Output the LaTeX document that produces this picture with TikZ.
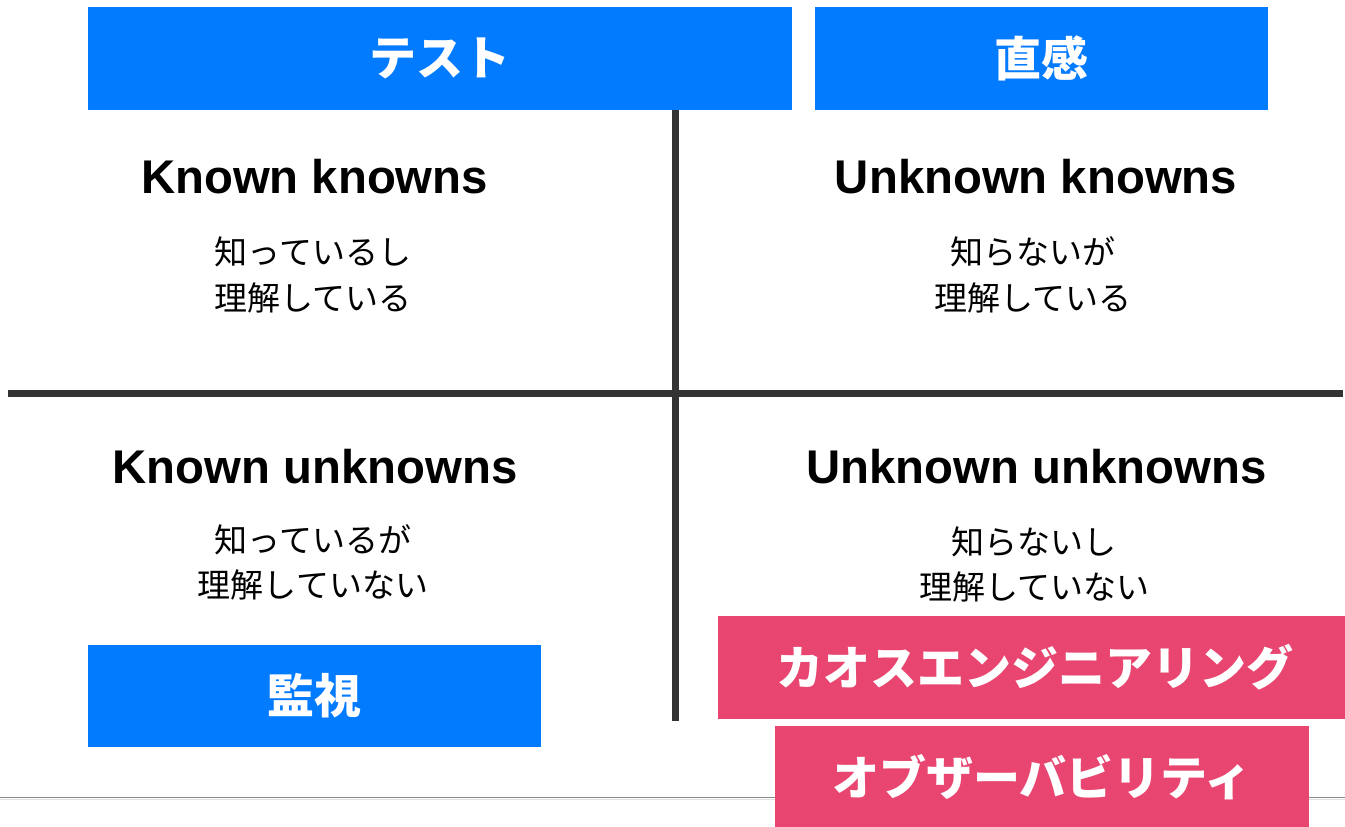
\documentclass[tikz,border=0pt]{standalone}
\usepackage{fontspec}
\setmainfont{Liberation Sans}
\newfontfamily\jp{Noto Sans CJK JP}
\definecolor{blueC}{HTML}{037BFF}
\definecolor{pinkC}{HTML}{E84670}
\definecolor{lineC}{HTML}{333333}
\definecolor{baseC}{HTML}{8A8A8A}
\tikzset{
  bluebox/.style={fill=blueC, draw=none, inner sep=0pt, text=white, font=\jp\bfseries\fontsize{47}{56}\selectfont},
  pinkbox/.style={fill=pinkC, draw=none, inner sep=0pt, text=white, font=\jp\bfseries\fontsize{47}{56}\selectfont},
  title/.style={anchor=base, inner sep=0pt, font=\bfseries\fontsize{47.3}{56}\selectfont},
  desc/.style={anchor=center, inner sep=0pt, font=\jp\fontsize{33}{46}\selectfont},
  gridline/.style={draw=lineC, line width=7pt},
}
\begin{document}
\begin{tikzpicture}[x=1pt,y=-1pt]
\useasboundingbox (0,0) rectangle (1345,827);
\fill[white] (0,0) rectangle (1345,827);
% bottom rule
\coordinate (bl) at (0,797.5);
\coordinate (br) at (1345,797.5);
\draw[baseC, line width=1.6pt] (bl) -- (br);
\draw[black!12, line width=1pt] ([yshift=-1.5pt]bl) -- ([yshift=-1.5pt]br);
% grid
\coordinate (vt) at (675.5,110);
\coordinate (vb) at (675.5,721);
\coordinate (hl) at (8,393.5);
\coordinate (hr) at (1343,393.5);
\draw[gridline] (vt) -- (vb);
\draw[gridline] (hl) -- (hr);
% header boxes
\node[bluebox, minimum width=704pt, minimum height=103pt] (test) at (440,58.5) {テスト};
\node[bluebox, minimum width=453pt, minimum height=103pt] (chok) at (1041.5,58.5) {直感};
\node[bluebox, minimum width=453pt, minimum height=102pt] (kanshi) at (314.5,696) {監視};
\node[pinkbox, minimum width=630pt, minimum height=103pt] (chaos) at (1033,667.5) {\hspace*{3pt}カオスエンジニアリング};
\node[pinkbox, minimum width=534pt, minimum height=103pt] (obs) at (1042,777.5) {オブザーバビリティ};
% quadrant titles
\node[title] (kk) at (314.5,193) {Known knowns};
\node[title] (uk) at (1036,193) {Unknown knowns};
\node[title] (ku) at (315,483) {Known unknowns};
\node[title] (uu) at (1036.5,483) {Unknown unknowns};
% descriptions
\node[desc] (kk1) at (313,252) {知っているし};
\node[desc] (kk2) at (313,298) {理解している};
\node[desc] (uk1) at (1033,252) {知らないが};
\node[desc] (uk2) at (1033,298) {理解している};
\node[desc] (ku1) at (313,540) {知っているが};
\node[desc] (ku2) at (313,585) {理解していない};
\node[desc] (uu1) at (1034,542) {知らないし};
\node[desc] (uu2) at (1034,587) {理解していない};
\end{tikzpicture}
\end{document}
